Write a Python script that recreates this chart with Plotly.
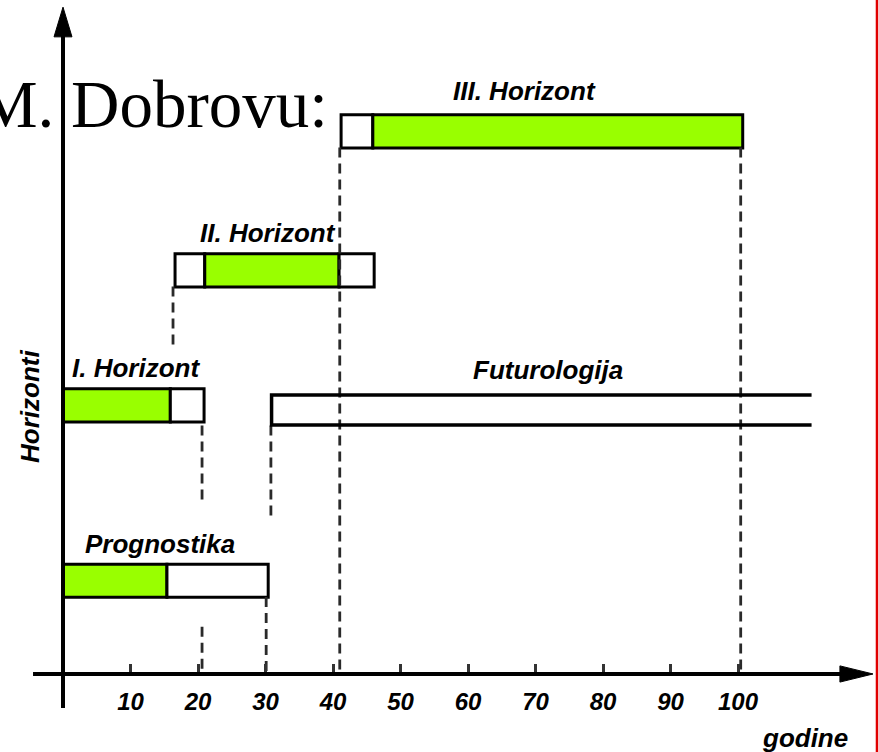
import plotly.graph_objects as go

# ---- data (years) ----
rows = ["III. Horizont", "II. Horizont", "I. Horizont", "Prognostika"]
seg_row = ["III. Horizont", "III. Horizont",
           "II. Horizont", "II. Horizont", "II. Horizont",
           "I. Horizont", "I. Horizont",
           "Prognostika", "Prognostika"]
seg_start = [41.2, 45.9, 16.6, 21.0, 40.9, 0.0, 15.9, 0.0, 15.4]
seg_end = [45.9, 100.7, 21.0, 40.9, 46.1, 15.9, 20.9, 15.4, 30.4]
seg_kind = ["white", "green", "white", "green", "white", "green", "white", "green", "white"]

futuro_start = 30.9
futuro_end = 110.9

tick_vals = [10, 20, 30, 40, 50, 60, 70, 80, 90, 100]
tick_text = ["10", "20", "30", "40", "50", "60", "70", "80", "90", "100"]

# dashed guide lines: x value, y from, y to
guide_x = [16.3, 20.6, 20.6, 30.8, 30.1, 41.0, 100.4]
guide_y0 = [2.87, 1.84, 0.35, 1.84, 0.57, 3.90, 3.90]
guide_y1 = [2.42, 1.29, 0.0, 1.14, 0.0, 0.0, 0.0]

# ---- layout positions (row levels, label positions) ----
row_level = {"III. Horizont": 4.02, "II. Horizont": 2.99, "I. Horizont": 1.99,
             "Prognostika": 0.69, "Futurologija": 1.956}
bar_w = 0.245
fut_w = 0.222

label_text = ["III. Horizont", "II. Horizont", "I. Horizont", "Futurologija", "Prognostika"]
label_x = [68.4, 30.3, 10.8, 71.8, 14.3]
label_y = [4.32, 3.267, 2.267, 2.252, 0.963]

GREEN = "#99ff00"
fill = {"green": GREEN, "white": "#ffffff"}

fig = go.Figure()

# dashed guides
for gx, a, b in zip(guide_x, guide_y0, guide_y1):
    fig.add_trace(go.Scatter(x=[gx, gx], y=[a, b], mode="lines",
                             line=dict(color="#2a2a2a", width=2.8, dash="10px,6px"),
                             hoverinfo="skip", showlegend=False))

# bars
for r, s, e, k in zip(seg_row, seg_start, seg_end, seg_kind):
    fig.add_trace(go.Bar(orientation="h", y=[row_level[r]], x=[e - s], base=[s],
                         width=bar_w, marker=dict(color=fill[k], line=dict(color="black", width=3)),
                         showlegend=False, hoverinfo="skip"))

# futurologija (open-ended bar)
fy = row_level["Futurologija"]
fig.add_trace(go.Scatter(
    x=[futuro_end, futuro_start, futuro_start, futuro_end],
    y=[fy + fut_w / 2, fy + fut_w / 2, fy - fut_w / 2, fy - fut_w / 2],
    mode="lines", line=dict(color="black", width=3.5), hoverinfo="skip", showlegend=False))

lab_font = dict(family="Liberation Sans", size=26, color="black", weight="bold", style="italic")
for t, x, y in zip(label_text, label_x, label_y):
    fig.add_annotation(x=x, y=y, text=t, showarrow=False, font=lab_font,
                       xanchor="center", yanchor="middle")

# axes lines and arrowheads
shapes = [
    dict(type="line", x0=-4.44, x1=116, y0=0, y1=0, xref="x", yref="y",
         line=dict(color="black", width=4)),
    dict(type="line", x0=0, x1=0, y0=-0.252, y1=4.75, xref="x", yref="y",
         line=dict(color="black", width=4)),
    dict(type="path", path="M 115.1,0.06 L 120,0 L 115.1,-0.06 Z", xref="x", yref="y",
         fillcolor="black", line=dict(color="black", width=1)),
    dict(type="path", path="M -1.33,4.72 L 0,4.94 L 1.33,4.72 Z", xref="x", yref="y",
         fillcolor="black", line=dict(color="black", width=1)),
    dict(type="line", x0=0.9977, x1=0.9977, y0=0, y1=1, xref="paper", yref="paper",
         line=dict(color="#e00000", width=2.5)),
]

fig.add_annotation(x=330 / 879, y=0.8617, xref="paper", yref="paper", text="M. Dobrovu:",
                   showarrow=False, xanchor="right", yanchor="middle",
                   font=dict(family="Liberation Serif", size=67, color="black"))
fig.add_annotation(x=0.9158, y=0.019, xref="paper", yref="paper", text="godine",
                   showarrow=False, xanchor="center", yanchor="middle", font=lab_font)
fig.add_annotation(x=30 / 879, y=0.4588, xref="paper", yref="paper", text="Horizonti",
                   showarrow=False, textangle=-90, xanchor="center", yanchor="middle",
                   font=lab_font)

fig.update_layout(
    width=879, height=752,
    margin=dict(l=0, r=0, t=0, b=0, autoexpand=False),
    paper_bgcolor="white", plot_bgcolor="white",
    barmode="overlay", showlegend=False, shapes=shapes,
    xaxis=dict(range=[-9.333, 120.889], showgrid=False, zeroline=False, showline=False,
               tickvals=tick_vals, ticktext=tick_text, ticks="inside", ticklen=10,
               tickwidth=3, tickcolor="#333333", anchor="free", position=(752 - 674) / 752,
               ticklabelstandoff=11,
               tickfont=dict(family="Liberation Sans", size=24, color="black",
                             weight="bold", style="italic")),
    yaxis=dict(range=[-0.578, 4.993], visible=False),
)

fig.write_html("out.html", config={"displayModeBar": False},
               post_script="document.body.style.margin='0px';document.body.style.overflow='hidden';")
